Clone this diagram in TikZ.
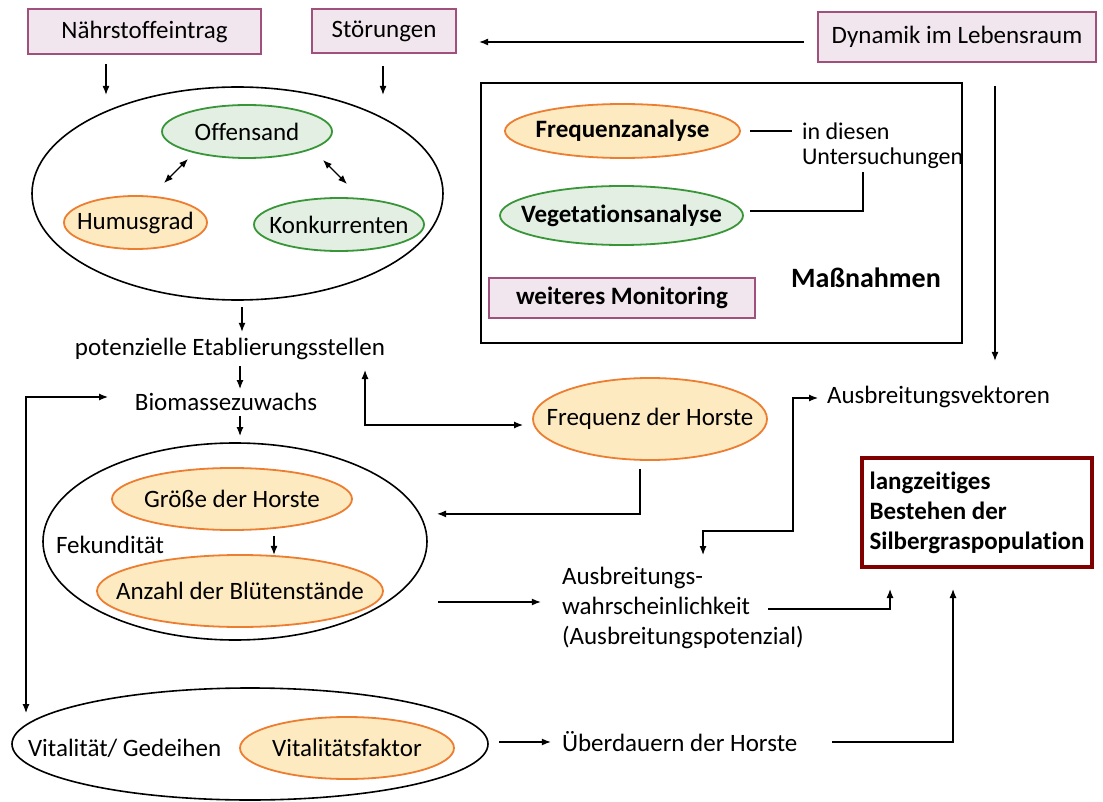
\documentclass[tikz,border=0pt]{standalone}
\usepackage{fontspec}
\setmainfont{Carlito}[Ligatures=NoCommon]
\usetikzlibrary{shapes.geometric,arrows.meta}
\definecolor{boxfill}{RGB}{242,230,238}
\definecolor{boxline}{RGB}{160,80,125}
\definecolor{orafill}{RGB}{253,234,192}
\definecolor{oraline}{RGB}{237,125,49}
\definecolor{grnfill}{RGB}{226,239,226}
\definecolor{grnline}{RGB}{56,150,56}
\definecolor{darkred}{RGB}{128,0,0}
\tikzset{
  every node/.style={font=\fontsize{12.5}{15}\selectfont},
  pinkbox/.style={draw=boxline, fill=boxfill, line width=0.9pt},
  bigell/.style={ellipse, draw, line width=0.8pt, inner sep=0pt},
  orangeell/.style={ellipse, draw=oraline, fill=orafill, line width=0.9pt, inner sep=0pt},
  greenell/.style={ellipse, draw=grnline, fill=grnfill, line width=0.9pt, inner sep=0pt},
  arr/.style={-{Latex[length=4.5pt,width=3.5pt]}, line width=0.6pt},
  darr/.style={{Latex[length=4.5pt,width=3.5pt]}-{Latex[length=4.5pt,width=3.5pt]}, line width=0.6pt},
  link/.style={line width=0.6pt}
}
\begin{document}
\begin{tikzpicture}[x=0.5pt, y=-0.5pt]
\useasboundingbox (0,0) rectangle (1103,802);
\node[pinkbox, minimum width=116.5pt, minimum height=22.5pt] (naehr) at (144.5,31.5) {Nährstoffeintrag};
\node[pinkbox, minimum width=72pt, minimum height=22pt] (stoer) at (384,31) {Störungen};
\node[pinkbox, minimum width=139pt, minimum height=25pt] (dyn) at (957,37) {Dynamik im Lebensraum};

\node[bigell, minimum width=205.5pt, minimum height=106.5pt] (habitat) at (237.5,193.5) {};
\node[greenell, minimum width=85pt, minimum height=26.5pt, label=center:Offensand] (offen) at (247,131.5) {};
\node[orangeell, minimum width=71.5pt, minimum height=26.5pt, label=center:Humusgrad] (humus) at (135.5,222.5) {};
\node[greenell, minimum width=85pt, minimum height=26.5pt, label=center:Konkurrenten] (konk) at (339,224.5) {};

\node (etab) at (230,349) {potenzielle Etablierungsstellen};
\node (bio) at (226,402) {Biomassezuwachs};

\node[bigell, minimum width=192pt, minimum height=98.5pt] (fec) at (235,541.5) {};
\node[orangeell, minimum width=120pt, minimum height=31pt, label=center:Größe der Horste] (groesse) at (232,499) {};
\node[anchor=west] (fectext) at (49,545) {Fekundität};
\node[orangeell, minimum width=143pt, minimum height=36pt, label=center:Anzahl der Blütenstände] (anzahl) at (240,591) {};

\node[bigell, minimum width=238pt, minimum height=56pt] (vital) at (250,744) {};
\node[anchor=west] (vitaltext) at (21,748) {Vitalität/ Gedeihen};
\node[orangeell, minimum width=107pt, minimum height=31pt, label=center:Vitalitätsfaktor] (vfaktor) at (347,748) {};

\node[orangeell, minimum width=117pt, minimum height=41pt, label=center:Frequenz der Horste] (freq) at (650,419) {};

\node[draw, line width=1.3pt, minimum width=240.5pt, minimum height=130pt] (massn) at (721.5,213) {};
\node[orangeell, minimum width=117.5pt, minimum height=27pt, label={[font=\fontsize{12.5}{15}\selectfont\bfseries]center:Frequenzanalyse}] (fana) at (622.5,131) {};
\node[greenell, minimum width=121.5pt, minimum height=29.5pt, label={[font=\fontsize{12.5}{15}\selectfont\bfseries]center:Vegetationsanalyse}] (vana) at (621.5,215.5) {};
\node[anchor=west, align=left, font=\fontsize{12}{15}\selectfont] (unters) at (795,145.5) {in diesen\\[-2.5pt]Untersuchungen};
\node[pinkbox, minimum width=133pt, minimum height=20pt, font=\fontsize{12.5}{15}\selectfont\bfseries] (monit) at (622,298) {weiteres Monitoring};
\node[font=\fontsize{14}{16}\selectfont\bfseries] (mlabel) at (866,278) {Maßnahmen};

\node[anchor=west] (vekt) at (820,397) {Ausbreitungsvektoren};
\node[anchor=west, align=left] (wahrsch) at (555,608) {Ausbreitungs-\\wahrscheinlichkeit\\(Ausbreitungspotenzial)};
\node[anchor=west] (ueber) at (555,742) {Überdauern der Horste};
\node[draw=darkred, line width=1.6pt, minimum width=115pt, minimum height=54.5pt, align=left, font=\fontsize{12.5}{15}\selectfont\bfseries] (lang) at (977,512.5) {langzeitiges\\Bestehen der\\Silbergraspopulation};

\draw[arr] (naehr.south) ++(-38.5,9) -- ++(0,31);
\draw[arr] (stoer.south) ++(-1,12) -- ++(0,29);
\draw[arr] (dyn.west) ++(-13,5) -- ++(-325,0);
\draw[arr] (dyn.south) ++(38,23) -- ++(0,275);
\draw[darr] (offen.center) ++(-59,27.5) -- ++(-24,24);
\draw[darr] (offen.center) ++(76,28.5) -- ++(24,24);
\draw[arr] (habitat.south) ++(4.5,6) -- ++(0,25);
\draw[arr] (etab.center) ++(10,17) -- ++(0,23);
\draw[arr] (bio.center) ++(14,14) -- ++(0,20);
\draw[darr] (bio.center) ++(-118,-5) -- ++(-82,0) -- ++(0,316);
\draw[darr] (etab.center) ++(135,21) -- ++(0,55) -- ++(158,0);
\draw[arr] (freq.south) ++(-10,8) -- ++(0,45) -- ++(-203,0);
\draw[arr] (groesse.south) ++(42,5) -- ++(0,19);
\draw[arr] (fec.east) ++(10,60.5) -- ++(103,0);
\draw[darr] (vekt.west) ++(-2,1) -- ++(-25,0) -- ++(0,133) -- ++(-90,0) -- ++(0,24);
\draw[arr] (wahrsch.west) ++(213,1) -- ++(122,0) -- ++(0,-20);
\draw[arr] (ueber.west) ++(277,0) -- ++(121,0) -- ++(0,-153);
\draw[arr] (vital.east) ++(10,-2) -- ++(52,0);
\draw[link] (fana.east) ++(9,0) -- ++(42,0);
\draw[link] (vana.east) ++(6,-4.5) -- ++(113,0) -- ++(0,-39);
\end{tikzpicture}
\end{document}
